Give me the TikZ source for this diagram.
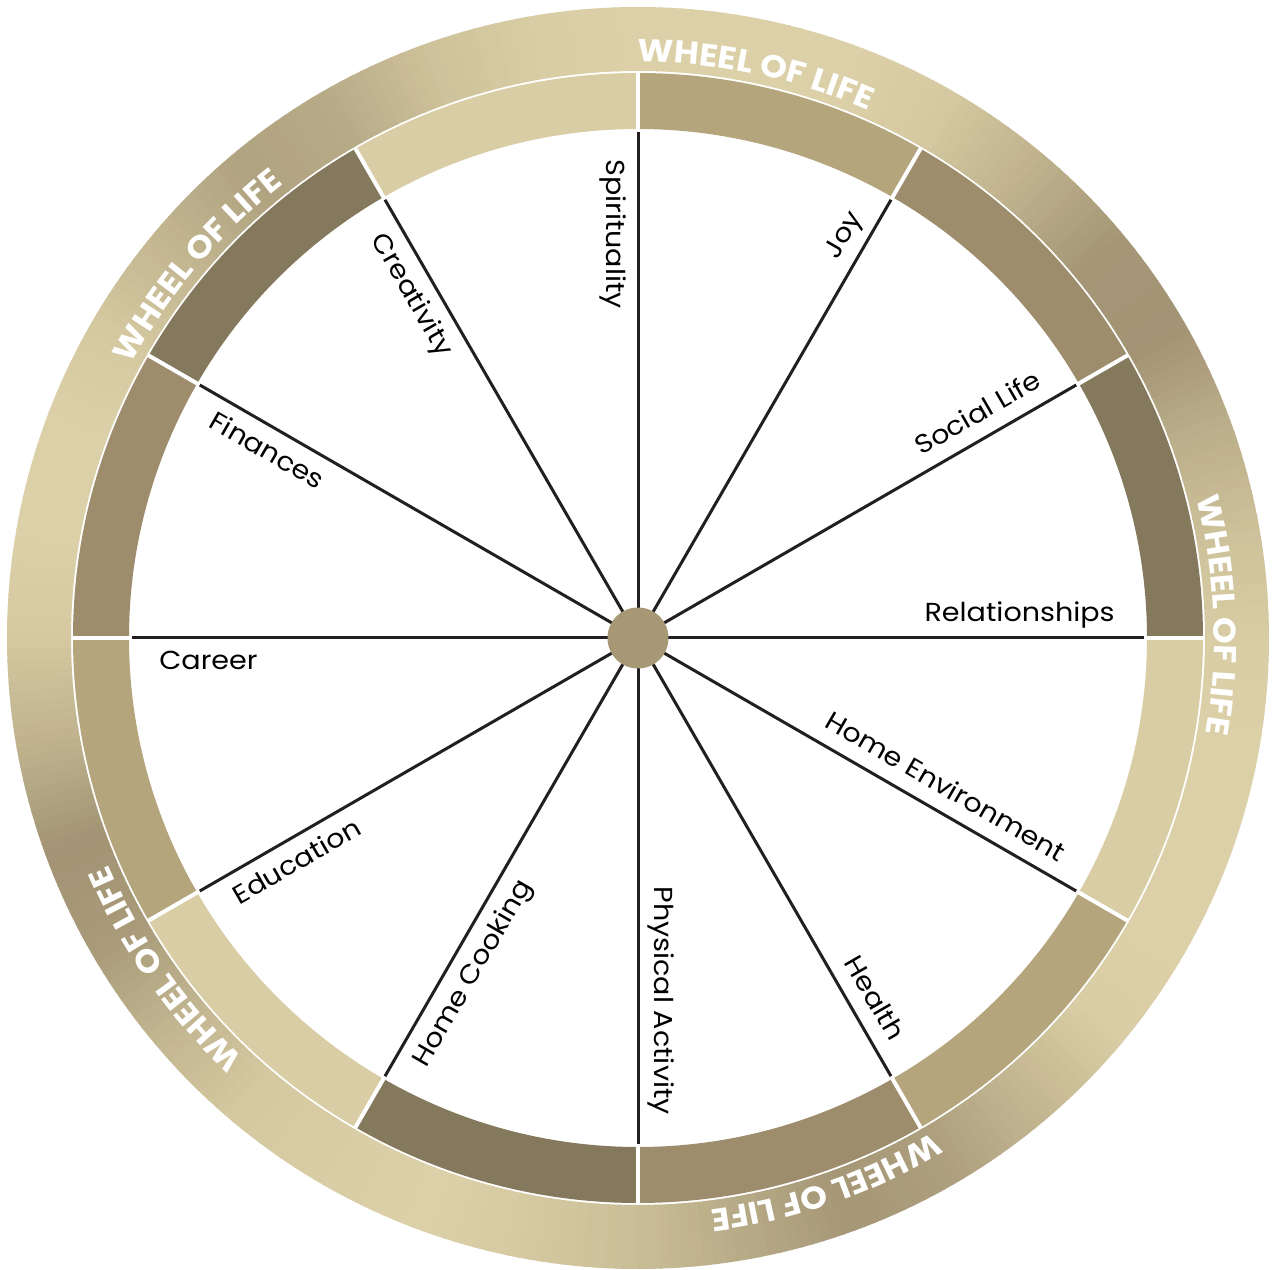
\documentclass[tikz,border=0pt]{standalone}
\usepackage{fontspec}
\setmainfont{Poppins}
\newfontfamily\lblfont{Poppins}[FakeStretch=1.1]
\newfontfamily\ringfont{Poppins}[FakeStretch=1.08]
\usepackage{xcolor}
\usepackage{tikz}
\usetikzlibrary{decorations.text}

\definecolor{segA}{HTML}{D9CDA5}
\definecolor{segB}{HTML}{B4A57D}
\definecolor{segC}{HTML}{9D8D6D}
\definecolor{segD}{HTML}{85795D}
\definecolor{hubcol}{HTML}{A69874}
\definecolor{ringlight}{HTML}{DBD0A7}
\definecolor{ringdark}{HTML}{938466}
\definecolor{spokecol}{HTML}{231F20}

\begin{document}
\begin{tikzpicture}[
    x=0.02cm, y=0.02cm,
    spoke/.style={draw=spokecol, line width=0.06cm},
    divider/.style={draw=white, line width=0.08cm},
    lbl/.style={font=\lblfont\fontsize{14.8}{16}\selectfont, inner sep=0pt, text=black},
    ringtxt/.style={decorate, decoration={text along path, text align=center,
        text color=white, text={|\ringfont\fontsize{18}{20}\selectfont\bfseries|WHEEL OF LIFE}}}
]
    \useasboundingbox (-638,-632) rectangle (636,638);
    \fill[white] (-638,-632) rectangle (636,638);

    % Outer ring, shaded by small sectors
    \foreach \a/\da/\db in {-180/0.1/0.4, -170/0.4/0.8, -160/0.8/0.7, -150/0.7/0.35,
        -140/0.35/0.1, -130/0.1/0.05, -120/0.05/0, -110/0/0.1, -100/0.1/0.25,
        -90/0.25/0.5, -80/0.5/0.75, -70/0.75/0.65, -60/0.65/0.35, -50/0.35/0.05,
        -40/0.05/0, -30/0/0, -20/0/0, -10/0/0.05, 0/0.05/0.2, 10/0.2/0.45,
        20/0.45/0.8, 30/0.8/0.75, 40/0.75/0.4, 50/0.4/0.1, 60/0.1/0, 70/0/0,
        80/0/0, 90/0/0.05, 100/0.05/0.2, 110/0.2/0.5, 120/0.5/0.6, 130/0.6/0.35,
        140/0.35/0.1, 150/0.1/0, 160/0/0, 170/0/0.1}{
        \foreach \k in {0,...,9}{
            \pgfmathsetmacro\b{\a+\k}
            \pgfmathtruncatemacro\p{100*(\da+(\db-\da)*(\k+0.5)/10)}
            \fill[ringdark!\p!ringlight] (\b:567) arc[start angle=\b, end angle=\b+1.15, radius=567]
                -- (\b+1.15:631) arc[start angle=\b+1.15, end angle=\b, radius=631] -- cycle;
        }
    }

    % Ring texts
    \foreach \c in {78.2, 2.3, -71, -145, 139.8}
        \path[ringtxt] (\c+40:576) arc[start angle=\c+40, end angle=\c-40, radius=576];

    % Coloured segments
    \foreach \a/\col in {60/segB, 30/segC, 0/segD, -30/segA, -60/segB, -90/segC,
        -120/segD, -150/segA, -180/segB, 150/segC, 120/segD, 90/segA}
        \fill[\col] (\a:509) arc[start angle=\a, end angle=\a+30, radius=509]
            -- (\a+30:565) arc[start angle=\a+30, end angle=\a, radius=565] -- cycle;
    \foreach \a in {0,30,...,330}
        \draw[divider] (\a:507) -- (\a:566);

    % Hub and spokes
    \coordinate (hubc) at (0,0);
    \foreach \a [count=\i] in {0,30,...,330}{
        \coordinate (s\i) at (\a:506);
        \draw[spoke] (hubc) -- (s\i);
    }
    \node[circle, fill=hubcol, minimum size=1.22cm, inner sep=0pt] (hub) at (hubc) {};

    % Labels, right half
    \foreach \a/\t [count=\i] in {0/Relationships, 30/Social Life, 60/Joy,
        270/Physical Activity, 300/Health, 330/Home Environment}
        \node[lbl, rotate=\a, anchor=base east] (r\i) at ([shift={(\a+90:16)}]\a:477) {\t};

    % Labels, left half
    \foreach \a/\t [count=\i] in {90/Spirituality, 120/Creativity, 150/Finances,
        180/Career, 210/Education, 240/Home Cooking}
        \node[lbl, rotate=\a-180, anchor=base west] (l\i) at ([shift={(\a+90:32)}]\a:479) {\t};
\end{tikzpicture}
\end{document}
